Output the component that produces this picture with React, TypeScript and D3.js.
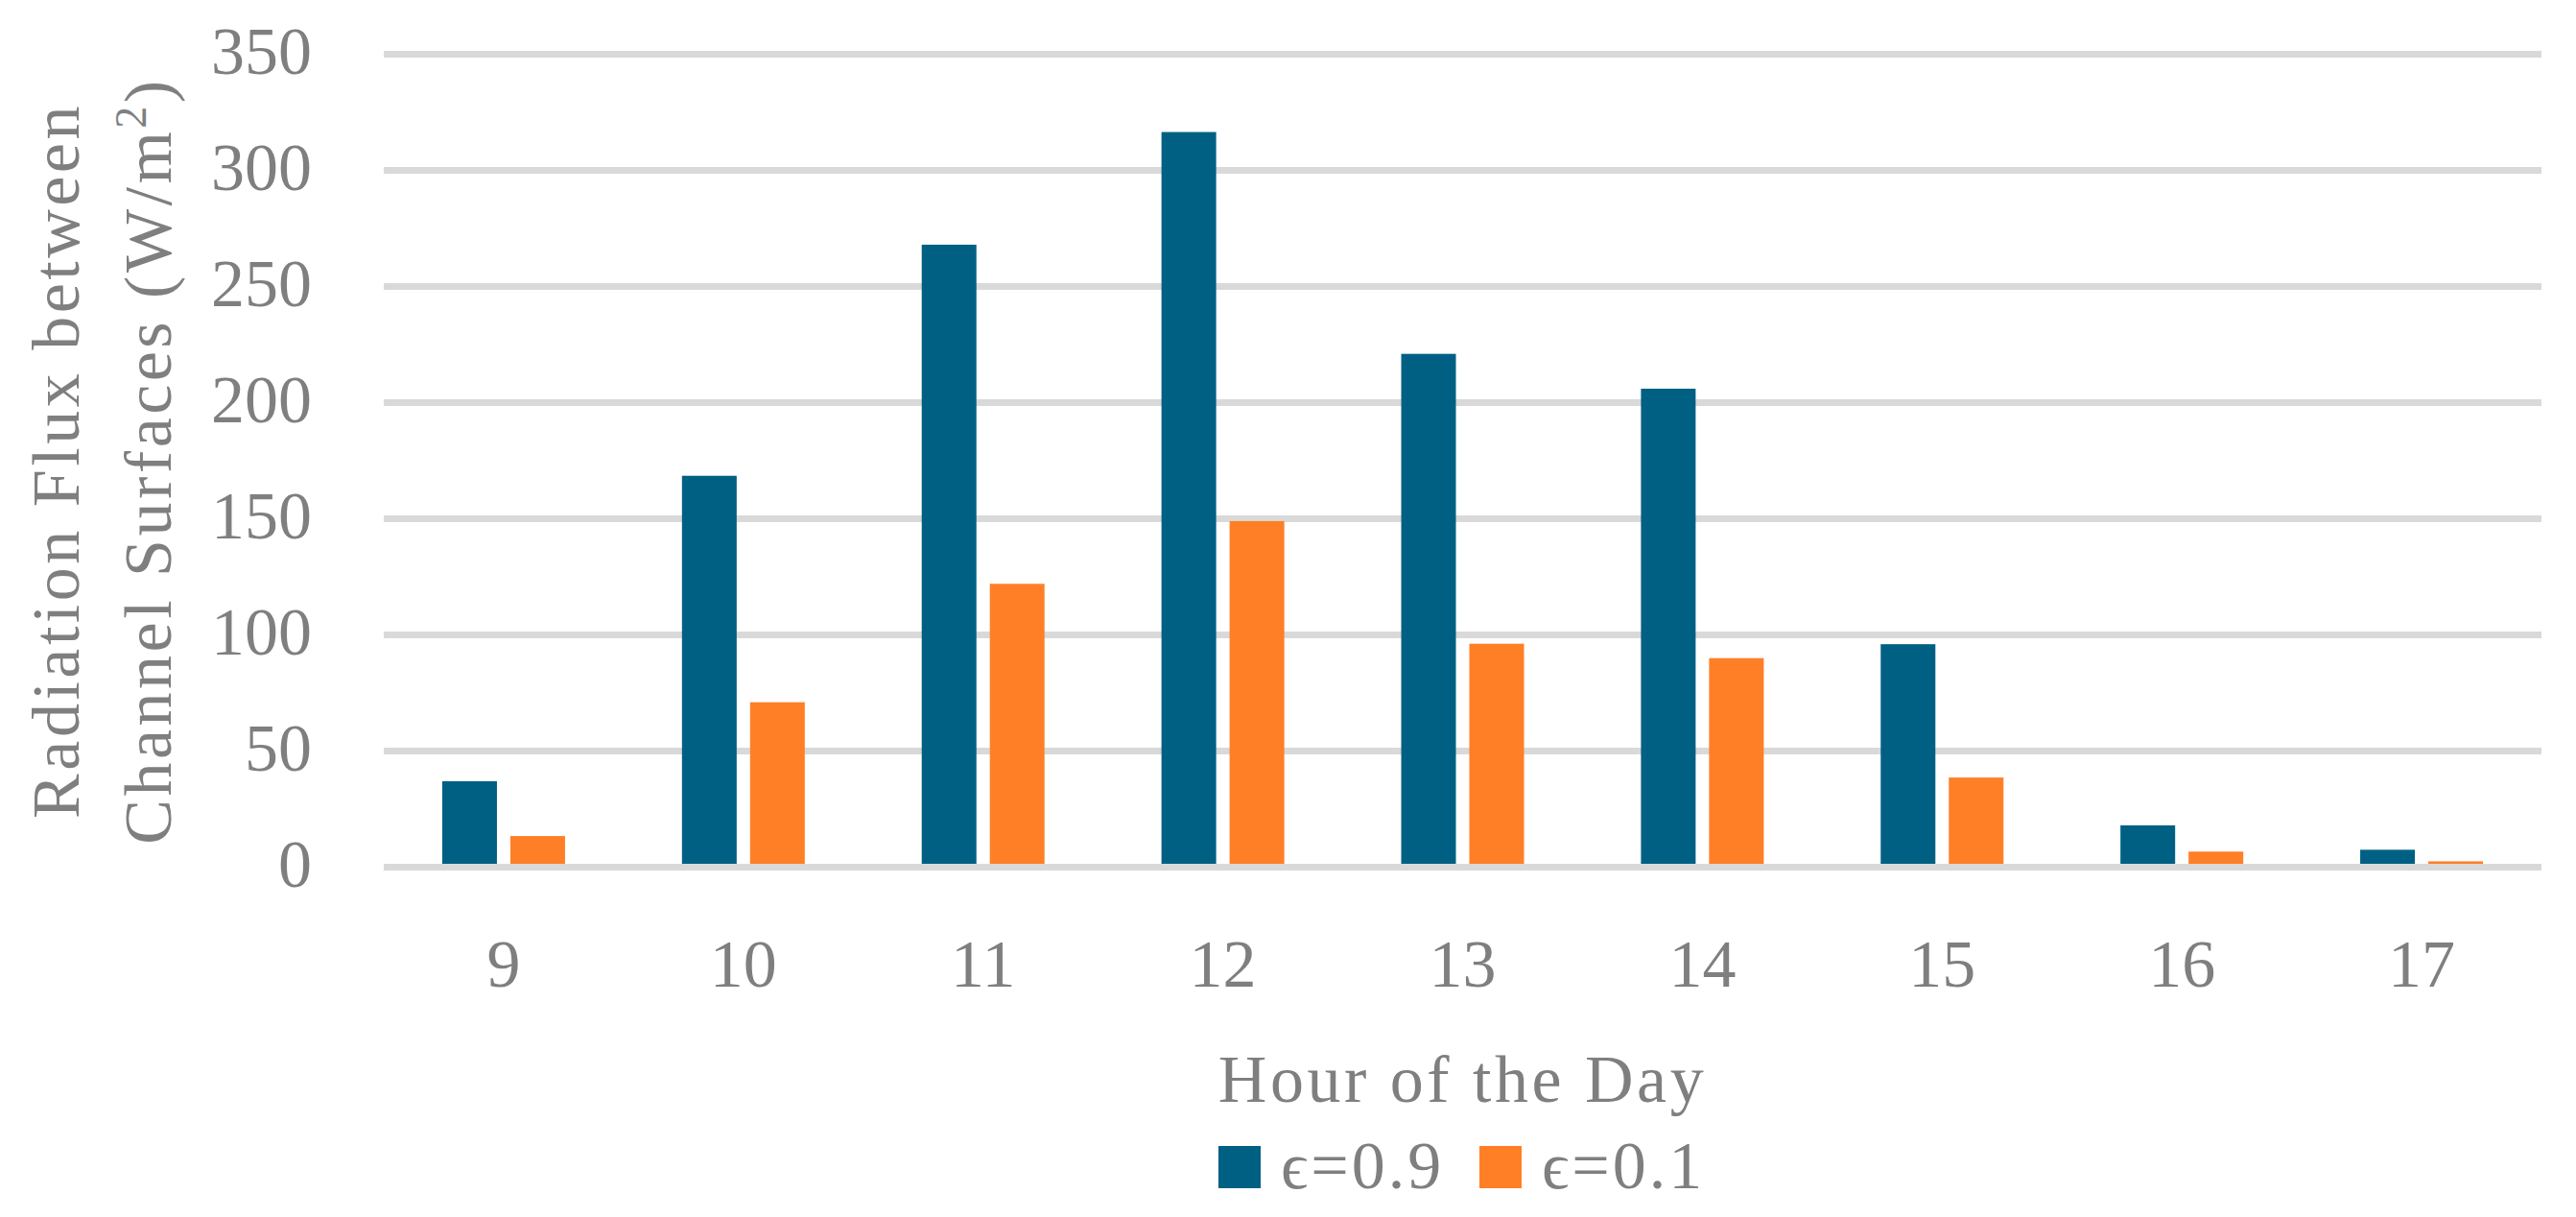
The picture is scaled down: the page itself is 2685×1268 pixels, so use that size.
import React from "react";
import * as d3 from "d3";

const hours = ["9", "10", "11", "12", "13", "14", "15", "16", "17"];
const seriesNames = ["ϵ=0.9", "ϵ=0.1"];
const eps09 = [37, 168.5, 268, 316.5, 221, 206, 96, 18, 7.5];
const eps01 = [13.4, 71, 122, 149, 96.2, 90, 38.6, 6.7, 2.5];
const yTicks = [0, 50, 100, 150, 200, 250, 300, 350];
const colors = ["#006083", "#ff7f27"];

const W = 2685;
const H = 1268;
const FONT = "'Liberation Serif', 'Times New Roman', serif";
const GRAY = "#7f7f7f";

export default function App() {
  const plotLeft = 400;
  const plotRight = 2649;
  const y0 = 903.5;
  const yTop = 56.5;

  const x0 = d3.scaleBand<string>().domain(hours).range([plotLeft, plotRight]).padding(0);
  const y = d3.scaleLinear().domain([0, 350]).range([y0, yTop]);
  const groupW = 128;
  const x1 = d3
    .scaleBand<number>()
    .domain([0, 1])
    .range([-groupW / 2, groupW / 2])
    .paddingInner(0.197)
    .paddingOuter(0);

  const data = [eps09, eps01];

  return (
    <div style={{ position: "absolute", left: 0, top: 0 }}>
      <svg width={W} height={H} style={{ display: "block", background: "#fff" }}>
        {/* gridlines */}
        {yTicks
          .filter((t) => t !== 0)
          .map((t) => (
            <line key={t} x1={plotLeft} x2={plotRight} y1={y(t)} y2={y(t)} stroke="#d9d9d9" strokeWidth={7} />
          ))}
        {/* bars */}
        {hours.map((h, i) => {
          const cx = (x0(h) as number) + x0.bandwidth() / 2;
          return data.map((s, si) => (
            <rect
              key={h + "-" + si}
              x={cx + (x1(si) as number)}
              y={y(s[i])}
              width={x1.bandwidth()}
              height={y0 - y(s[i])}
              fill={colors[si]}
            />
          ));
        })}
        {/* zero axis line */}
        <line x1={plotLeft} x2={plotRight} y1={y(0)} y2={y(0)} stroke="#d9d9d9" strokeWidth={7} />
        {/* y tick labels */}
        {yTicks.map((t) => (
          <text key={t} x={325} y={y(t) + 20.5} textAnchor="end" fontFamily={FONT} fontSize={70} fill={GRAY}>
            {t}
          </text>
        ))}
        {/* x tick labels */}
        {hours.map((h) => (
          <text
            key={h}
            x={(x0(h) as number) + x0.bandwidth() / 2}
            y={1028}
            textAnchor="middle"
            fontFamily={FONT}
            fontSize={70}
            fill={GRAY}
          >
            {h}
          </text>
        ))}
        {/* y axis title */}
        <g transform={`translate(82, ${(y0 + yTop) / 2}) rotate(-90)`}>
          <text textAnchor="middle" fontFamily={FONT} fontSize={70} fill={GRAY} letterSpacing={3.5}>
            Radiation Flux between
          </text>
        </g>
        <g transform={`translate(178, ${(y0 + yTop) / 2}) rotate(-90)`}>
          <text textAnchor="middle" fontFamily={FONT} fontSize={70} fill={GRAY} letterSpacing={3.5}>
            Channel Surfaces (W/m
            <tspan fontSize={46} dy={-26}>2</tspan>
            <tspan dy={26}>)</tspan>
          </text>
        </g>
        {/* x axis title */}
        <text
          x={(plotLeft + plotRight) / 2}
          y={1148}
          textAnchor="middle"
          fontFamily={FONT}
          fontSize={70}
          fill={GRAY}
          letterSpacing={3.5}
        >
          Hour of the Day
        </text>
        {/* legend */}
        {seriesNames.map((n, i) => {
          const lx = i === 0 ? 1270 : 1542;
          return (
            <g key={n}>
              <rect x={lx} y={1194} width={44} height={44} fill={colors[i]} />
              <text x={lx + 65} y={1238} fontFamily={FONT} fontSize={70} fill={GRAY} letterSpacing={3}>
                {n}
              </text>
            </g>
          );
        })}
      </svg>
    </div>
  );
}
